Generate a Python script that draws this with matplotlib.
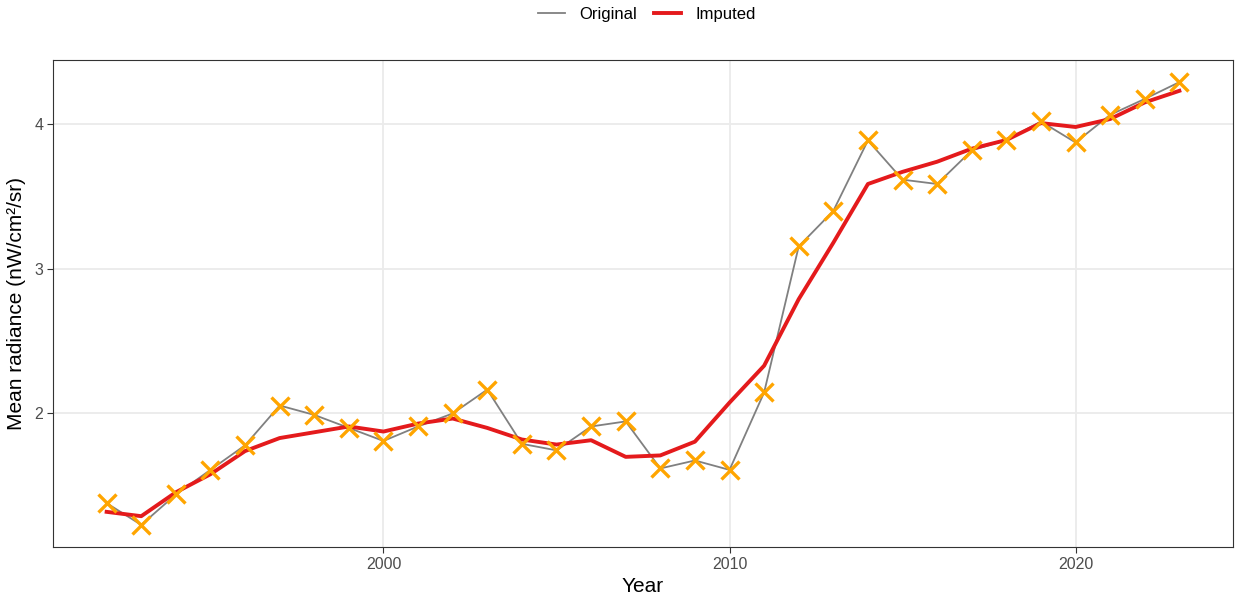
import matplotlib
matplotlib.use("Agg")
import matplotlib.pyplot as plt
from matplotlib.lines import Line2D

plt.rcParams['font.family'] = ['Liberation Sans', 'DejaVu Sans']

years = list(range(1992, 2024))
original = [1.38, 1.23, 1.44, 1.61, 1.78, 2.055, 1.99, 1.90, 1.81, 1.91, 2.00, 2.165,
            1.79, 1.745, 1.91, 1.945, 1.62, 1.675, 1.61, 2.145, 3.155, 3.40, 3.887, 3.616,
            3.586, 3.818, 3.89, 4.018, 3.873, 4.064, 4.174, 4.29]
imputed = [1.32, 1.29, 1.455, 1.58, 1.74, 1.83, 1.87, 1.91, 1.875, 1.93, 1.965, 1.90,
           1.82, 1.785, 1.815, 1.70, 1.71, 1.805, 2.075, 2.33, 2.79, 3.18, 3.586, 3.67,
           3.74, 3.83, 3.89, 4.007, 3.98, 4.035, 4.15, 4.23]
xticks = [2000, 2010, 2020]
yticks = [2, 3, 4]

fig = plt.figure(figsize=(12.39, 5.96), dpi=100)
ax = fig.add_axes([53/1239, 1-547/596, (1233-53)/1239, (547-60)/596])

ax.plot(years, original, color="#808080", lw=1.3, zorder=3)
ax.plot(years, imputed, color="#E41A1C", lw=2.8, zorder=4)
ax.plot(years, original, ls="none", marker="x", ms=13.5, mew=2.4, color="#FFA500", zorder=5)

ax.set_xlim(1990.45, 2024.55)
ax.set_ylim(1.077, 4.443)
ax.set_xticks(xticks)
ax.set_yticks(yticks)
ax.set_xticklabels([str(t) for t in xticks])
ax.set_yticklabels([str(t) for t in yticks])
ax.grid(True, color="#EBEBEB", lw=1.3, zorder=0)
ax.set_axisbelow(True)
for s in ax.spines.values():
    s.set_color("#333333")
    s.set_linewidth(0.8)
ax.tick_params(axis="both", colors="#333333", labelcolor="#4D4D4D", labelsize=11.5, length=4, width=0.8, pad=3)
ax.set_xlabel("Year", fontsize=15, labelpad=4)
ax.set_ylabel("Mean radiance (nW/cm²/sr)", fontsize=15, labelpad=6)

handles = [Line2D([], [], color="#808080", lw=1.3), Line2D([], [], color="#E41A1C", lw=2.8)]
fig.legend(handles, ["Original", "Imputed"], loc="upper center", bbox_to_anchor=(647/1239, 1.014),
           ncol=2, frameon=False, fontsize=12, handlelength=1.6, columnspacing=1.0, handletextpad=0.9)

fig.savefig("out.png", dpi=100)
